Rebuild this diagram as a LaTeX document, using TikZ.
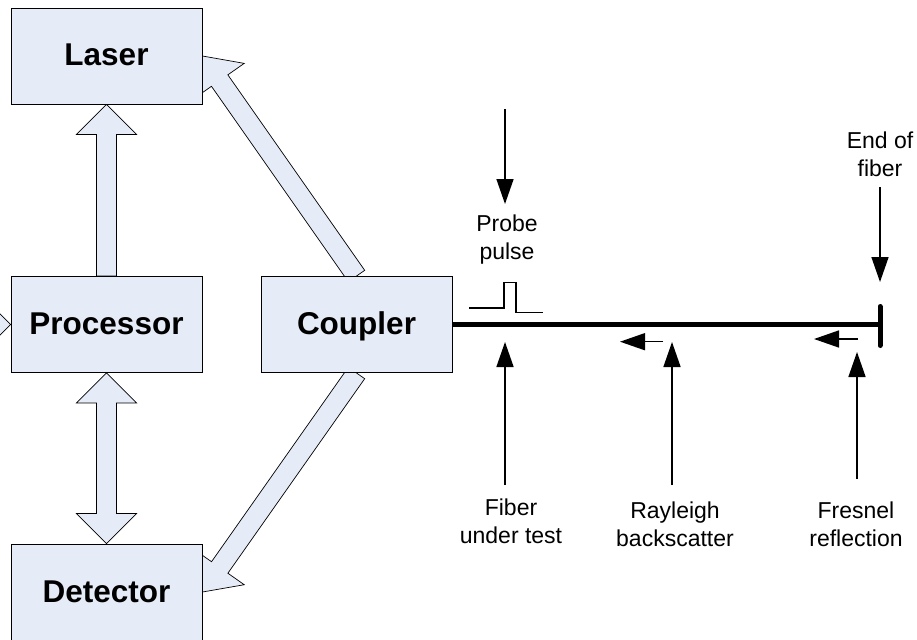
\documentclass[tikz,border=0pt]{standalone}
\usepackage{fontspec}
\setmainfont{Liberation Sans}
\usetikzlibrary{calc,arrows.meta}
\definecolor{boxfill}{RGB}{230,236,247}
\pgfdeclarelayer{background}
\pgfsetlayers{background,main}
\newcommand\blkarrow[2]{%
  \path ($(#2)!30pt!(#1)$) coordinate (hb);
  \path[blk] ($(#1)!10pt!90:(#2)$) -- ($(hb)!10pt!90:(#2)$) -- ($(hb)!30pt!90:(#2)$) -- (#2)
    -- ($(hb)!30pt!-90:(#2)$) -- ($(hb)!10pt!-90:(#2)$) -- ($(#1)!10pt!-90:(#2)$) -- cycle;
}
\newcommand\blkdouble[2]{%
  \path ($(#2)!30pt!(#1)$) coordinate (hb);
  \path ($(#1)!30pt!(#2)$) coordinate (ha);
  \path[blk] (#1) -- ($(ha)!30pt!90:(#2)$) -- ($(ha)!10pt!90:(#2)$) -- ($(hb)!10pt!90:(#2)$)
    -- ($(hb)!30pt!90:(#2)$) -- (#2) -- ($(hb)!30pt!-90:(#2)$) -- ($(hb)!10pt!-90:(#2)$)
    -- ($(ha)!10pt!-90:(#2)$) -- ($(ha)!30pt!-90:(#2)$) -- cycle;
}
\begin{document}
\begin{tikzpicture}[x=1pt,y=-1pt,
  box/.style={draw=black, line width=0.9pt, fill=boxfill, minimum width=191pt, minimum height=96pt,
    inner sep=0pt, font=\fontsize{31.5}{36}\selectfont\bfseries, text height=20pt, text depth=0pt},
  lbl/.style={font=\fontsize{23}{28}\selectfont, align=center, inner sep=0pt},
  thinarrow/.style={line width=1.5pt, -{Triangle[length=25pt,width=17pt]}},
  blk/.style={draw=black, line width=0.7pt, fill=boxfill, line join=miter}
]
\useasboundingbox (0,0) rectangle (917,639);

% boxes
\node[box] (laser) at (106.5,56) {Laser};
\node[box] (proc)  at (106.5,324.5) {Processor};
\node[box] (coup)  at (356.5,324.5) {Coupler};
\node[box] (det)   at (106.5,592) {Detector};

% block arrows behind boxes
\coordinate (offleft) at (-80,324.5);
\begin{pgfonlayer}{background}
  \blkarrow{proc.north}{laser.south}
  \blkdouble{proc.south}{det.north}
  \blkarrow{coup.north}{laser.east}
  \blkarrow{coup.south}{det.east}
  \blkarrow{offleft}{proc.west}
\end{pgfonlayer}

% fiber
\coordinate (fend) at (880,324.5);
\coordinate (barT) at (880,306.5);
\coordinate (barB) at (880,345.5);
\draw[line width=5pt] (coup.east) -- (fend);
\draw[line width=5pt, line cap=round] (barT) -- (barB);

% probe pulse shape
\draw[line width=1.3pt] (469,308) -- (504,308) -- (504,282.3) -- (516,282.3) -- (516,312.3) -- (543,312.3);

% labels
\node[lbl] (probe) at (507,239.7) {Probe\\pulse};
\node[lbl] (endf)  at (880,154.7) {End of\\fiber};
\node[lbl] (fut)   at (511,521.6) {Fiber\\under test};
\node[lbl] (ray)   at (675,524.6) {Rayleigh\\backscatter};
\node[lbl] (fres)  at (856,524.6) {Fresnel\\reflection};

% label arrows
\coordinate (pa1) at (505,109);  \coordinate (pa2) at (505,204);
\coordinate (ea1) at (880,187);  \coordinate (ea2) at (880,282);
\coordinate (fa1) at (505,485);  \coordinate (fa2) at (505,342);
\coordinate (ra1) at (672,485);  \coordinate (ra2) at (672,342);
\coordinate (sa1) at (857,479);  \coordinate (sa2) at (857,352);
\draw[thinarrow] (pa1) -- (pa2);
\draw[thinarrow] (ea1) -- (ea2);
\draw[thinarrow] (fa1) -- (fa2);
\draw[thinarrow] (ra1) -- (ra2);
\draw[thinarrow] (sa1) -- (sa2);

% backward signal arrows
\coordinate (rb1) at (663,341.7); \coordinate (rb2) at (620,341.7);
\coordinate (fb1) at (858,339);   \coordinate (fb2) at (814,339);
\draw[thinarrow] (rb1) -- (rb2);
\draw[thinarrow] (fb1) -- (fb2);
\end{tikzpicture}
\end{document}
